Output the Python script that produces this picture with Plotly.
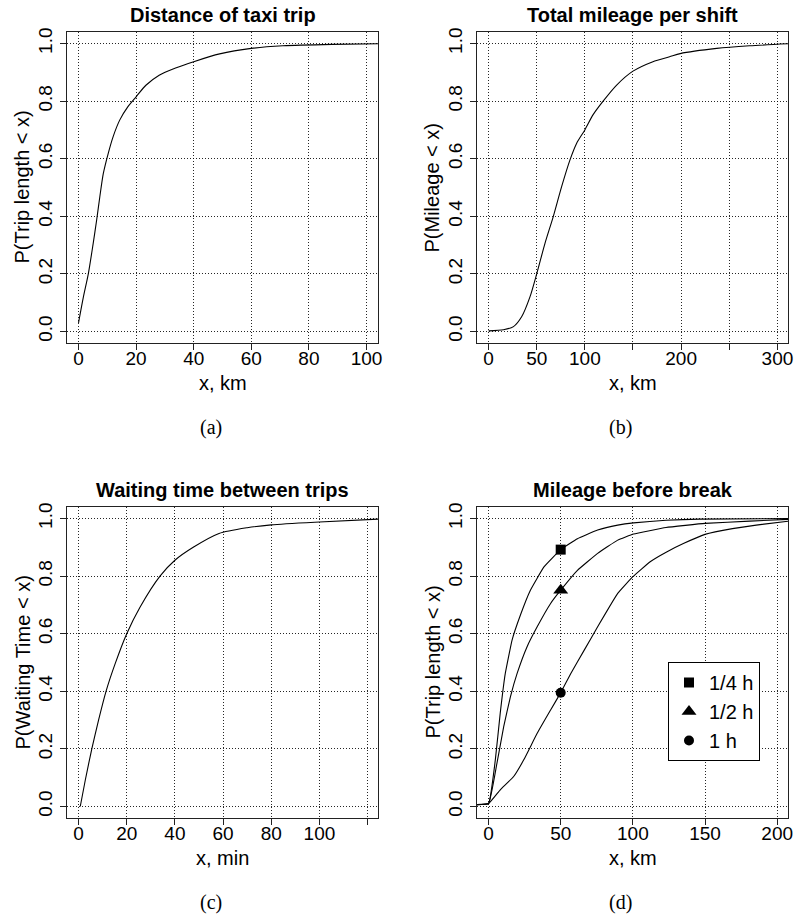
import plotly.graph_objects as go

# ---------------- data ----------------
# (a) Distance of taxi trip
a_x = [0, 1.7, 3.4, 5.1, 6.3, 7.4, 8.6, 10.3, 12, 14.3, 17.1, 20, 23.4, 28, 33.7, 40, 49, 60, 71, 88, 104]
a_y = [0.03, 0.12, 0.20, 0.306, 0.387, 0.468, 0.548, 0.618, 0.676, 0.734, 0.78, 0.815, 0.855, 0.89, 0.915,
       0.937, 0.964, 0.983, 0.992, 0.997, 0.999]

# (b) Total mileage per shift
b_x = [0, 15.5, 25.9, 34.5, 43, 50, 58.6, 67.2, 75.9, 84.5, 91.4, 100, 108.6, 119, 132.8, 150, 170.7, 188,
       199, 237, 271, 311]
b_y = [0.002, 0.006, 0.017, 0.052, 0.12, 0.20, 0.306, 0.399, 0.503, 0.595, 0.653, 0.70, 0.753, 0.80, 0.855,
       0.904, 0.937, 0.954, 0.965, 0.983, 0.992, 0.999]

# (c) Waiting time between trips
c_x = [0.7, 2.8, 5.5, 8.3, 11.4, 15.2, 20, 25.5, 33.8, 40, 47.6, 58.3, 70, 80, 100, 124.5]
c_y = [0.0, 0.092, 0.20, 0.30, 0.40, 0.496, 0.60, 0.692, 0.80, 0.855, 0.90, 0.948, 0.968, 0.978, 0.988, 0.998]

# (d) Mileage before break
d_q_x = [-10, 0, 4.7, 8.1, 11.6, 16.3, 22.1, 29, 38.4, 50, 61.6, 75.6, 89.5, 100.5, 123, 146, 208]
d_q_y = [0.006, 0.01, 0.162, 0.324, 0.462, 0.578, 0.665, 0.751, 0.832, 0.892, 0.93, 0.96, 0.977, 0.985,
         0.994, 0.998, 1.0]
d_h_x = [-10, 0, 5.8, 10.5, 15.1, 19.8, 26.7, 33.7, 43, 50, 61.6, 75.6, 89.5, 100.5, 123, 150, 181, 208]
d_h_y = [0.006, 0.01, 0.15, 0.277, 0.38, 0.462, 0.555, 0.624, 0.705, 0.751, 0.82, 0.879, 0.925, 0.946,
         0.969, 0.983, 0.991, 0.997]
d_1_x = [-10, 0, 8.1, 17.4, 24.4, 33.7, 43, 50, 57, 66.3, 75.6, 89.5, 100, 112, 123.4, 135, 150, 169, 185.5, 208]
d_1_y = [0.006, 0.01, 0.058, 0.104, 0.162, 0.254, 0.335, 0.395, 0.462, 0.543, 0.624, 0.74, 0.798, 0.85,
         0.884, 0.913, 0.945, 0.965, 0.977, 0.991]

d_labels = ["1/4 h", "1/2 h", "1 h"]
d_mark_x = [50, 50, 50]
d_mark_y = [0.892, 0.751, 0.395]

titles = ["Distance of taxi trip", "Total mileage per shift",
          "Waiting time between trips", "Mileage before break"]
x_titles = ["x, km", "x, km", "x, min", "x, km"]
y_titles = ["P(Trip length < x)", "P(Mileage < x)", "P(Waiting Time < x)", "P(Trip length < x)"]
panel_tags = ["(a)", "(b)", "(c)", "(d)"]

a_ticks = [0, 20, 40, 60, 80, 100]
a_ticktext = ["0", "20", "40", "60", "80", "100"]
b_ticks = [0, 50, 100, 150, 200, 250, 300]
b_ticktext = ["0", "50", "100", "", "200", "", "300"]
c_ticks = [0, 20, 40, 60, 80, 100, 120]
c_ticktext = ["0", "20", "40", "60", "80", "100", ""]
d_ticks = [0, 50, 100, 150, 200]
d_ticktext = ["0", "50", "100", "150", "200"]
y_ticks = [0, 0.2, 0.4, 0.6, 0.8, 1.0]
y_ticktext = ["0.0", "0.2", "0.4", "0.6", "0.8", "1.0"]

# ---------------- styling / geometry (pixels) ----------------
W, H = 795, 918
FONT = "Liberation Sans, Arial, sans-serif"
SERIF = "Liberation Serif, DejaVu Serif, serif"
col_px = [(67, 378), (477, 788)]
row_px = [(32, 343), (507, 818)]
marker_styles = [dict(symbol="square", size=10), dict(symbol="triangle-up", size=13),
                 dict(symbol="circle", size=10)]


def px_x(p):
    return p / W


def px_y(p):
    return 1 - p / H


fig = go.Figure()

line_style = dict(color="black", width=1.1, shape="spline", smoothing=0.7)
line_style_d = dict(color="black", width=1.1, shape="spline", smoothing=0.3)
fig.add_trace(go.Scatter(x=a_x, y=a_y, mode="lines", line=line_style, showlegend=False,
                         xaxis="x", yaxis="y"))
fig.add_trace(go.Scatter(x=b_x, y=b_y, mode="lines", line=line_style, showlegend=False,
                         xaxis="x2", yaxis="y2"))
fig.add_trace(go.Scatter(x=c_x, y=c_y, mode="lines", line=line_style, showlegend=False,
                         xaxis="x3", yaxis="y3"))
for xs, ys in [(d_q_x, d_q_y), (d_h_x, d_h_y), (d_1_x, d_1_y)]:
    fig.add_trace(go.Scatter(x=xs, y=ys, mode="lines", line=line_style_d, showlegend=False,
                             xaxis="x4", yaxis="y4"))
for lab, mx, my, ms in zip(d_labels, d_mark_x, d_mark_y, marker_styles):
    fig.add_trace(go.Scatter(x=[mx], y=[my], mode="markers", name=lab,
                             marker=dict(ms, color="black"),
                             xaxis="x4", yaxis="y4"))

x_ranges = [[-4, 104], [-12, 311], [-4.8, 124.3], [-8, 207.5]]
x_tickvals = [a_ticks, b_ticks, c_ticks, d_ticks]
x_ticktexts = [a_ticktext, b_ticktext, c_ticktext, d_ticktext]

common = dict(showline=True, mirror=True, linecolor="#222", linewidth=1.2,
              ticks="outside", ticklen=6, tickcolor="#222", tickwidth=1,
              showgrid=True, gridcolor="rgba(0,0,0,0.85)", gridwidth=1, griddash="1px,2px",
              zeroline=False, tickfont=dict(family=FONT, size=19, color="black"),
              automargin=False, fixedrange=True)

layout = dict(width=W, height=H, margin=dict(l=0, r=0, t=0, b=0),
              paper_bgcolor="white", plot_bgcolor="white",
              font=dict(family=FONT, color="black"),
              legend=dict(x=px_x(668), y=px_y(662), xanchor="left", yanchor="top",
                          bordercolor="black", borderwidth=1, bgcolor="white",
                          font=dict(family=FONT, size=20, color="black"),
                          tracegroupgap=0))

annotations = []
for i in range(4):
    r, c = divmod(i, 2)
    xa = "xaxis" if i == 0 else f"xaxis{i + 1}"
    ya = "yaxis" if i == 0 else f"yaxis{i + 1}"
    anchor_x = "y" if i == 0 else f"y{i + 1}"
    anchor_y = "x" if i == 0 else f"x{i + 1}"
    x0, x1 = col_px[c]
    y0, y1 = row_px[r]
    layout[xa] = dict(common, domain=[px_x(x0), px_x(x1)], range=x_ranges[i], anchor=anchor_x,
                      tickmode="array", tickvals=x_tickvals[i], ticktext=x_ticktexts[i],
                      ticklabelstandoff=-8)
    layout[ya] = dict(common, domain=[px_y(y1), px_y(y0)], range=[-0.04, 1.04], anchor=anchor_y,
                      tickmode="array", tickvals=y_ticks, ticktext=y_ticktext, tickangle=-90)
    cx = (x0 + x1) / 2
    annotations.append(dict(text=f"<b>{titles[i]}</b>", x=px_x(cx), y=px_y(y0 - 17),
                            xref="paper", yref="paper", showarrow=False, xanchor="center",
                            yanchor="middle", font=dict(family=FONT, size=20, color="black")))
    annotations.append(dict(text=x_titles[i], x=px_x(cx), y=px_y(y1 + 40),
                            xref="paper", yref="paper", showarrow=False, xanchor="center",
                            yanchor="middle", font=dict(family=FONT, size=20, color="black")))
    annotations.append(dict(text=y_titles[i], x=px_x(x0 - 45), y=px_y((y0 + y1) / 2),
                            xref="paper", yref="paper", showarrow=False, xanchor="center",
                            yanchor="middle", textangle=-90,
                            font=dict(family=FONT, size=20, color="black")))
    annotations.append(dict(text=panel_tags[i], x=px_x(cx - 12), y=px_y(y1 + 84),
                            xref="paper", yref="paper", showarrow=False, xanchor="center",
                            yanchor="middle", font=dict(family=SERIF, size=20, color="black")))

layout["annotations"] = annotations
fig.update_layout(**layout)

fig.write_html("out.html", config={"displayModeBar": False},
               post_script="document.body.style.margin='0';document.body.style.overflow='hidden';")
